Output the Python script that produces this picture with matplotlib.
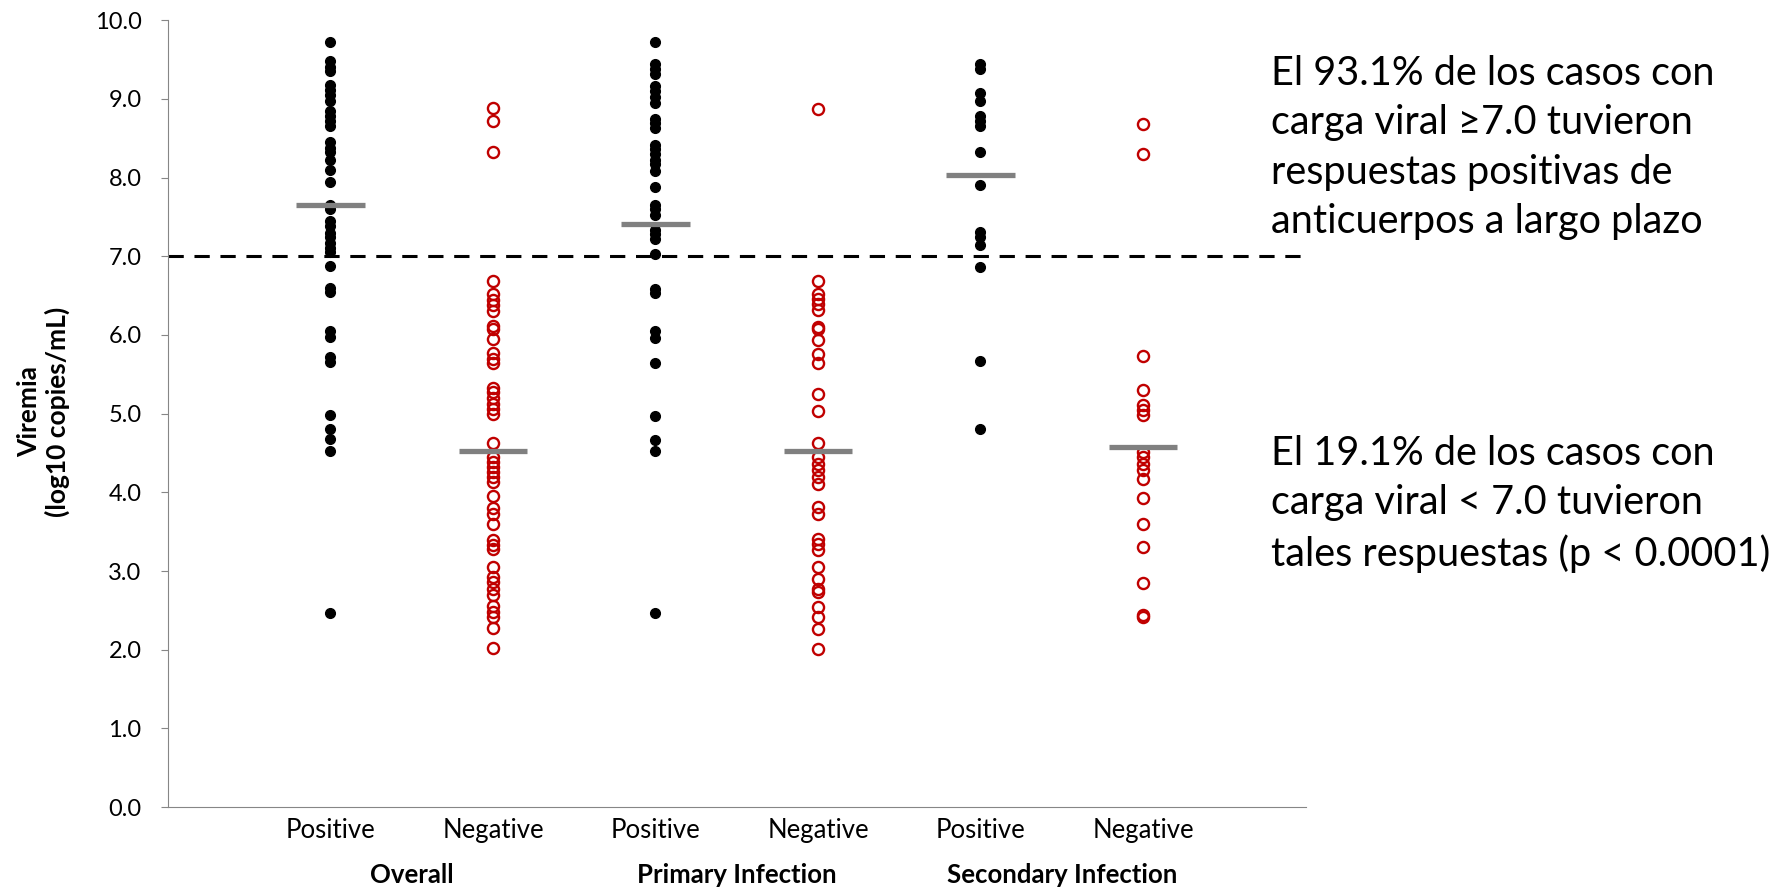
import numpy as np
import matplotlib.pyplot as plt

plt.rcParams['font.family'] = ['Lato', 'DejaVu Sans']

# viremia values (log10 copies/mL) per group
overall_pos = [9.73, 9.48, 9.41, 9.35, 9.18, 9.12, 9.05, 8.97, 8.85, 8.78, 8.72, 8.66,
               8.45, 8.38, 8.32, 8.23, 8.10, 7.94, 7.65, 7.60, 7.45, 7.38, 7.30, 7.24,
               7.17, 7.11, 7.05, 6.88, 6.60, 6.55, 6.05, 5.97, 5.72, 5.66, 4.98, 4.80,
               4.68, 4.52, 2.47]
overall_neg = [8.88, 8.72, 8.32, 6.68, 6.52, 6.45, 6.38, 6.30, 6.12, 6.08, 5.95, 5.77,
               5.70, 5.65, 5.33, 5.27, 5.20, 5.12, 5.06, 5.00, 4.63, 4.45, 4.38, 4.32,
               4.26, 4.19, 4.13, 3.95, 3.80, 3.73, 3.60, 3.40, 3.33, 3.28, 3.05, 2.92,
               2.86, 2.77, 2.70, 2.55, 2.48, 2.42, 2.27, 2.02]
primary_pos = [9.72, 9.45, 9.38, 9.32, 9.16, 9.10, 9.03, 8.95, 8.75, 8.69, 8.63, 8.42,
               8.36, 8.30, 8.23, 8.17, 8.08, 7.88, 7.65, 7.60, 7.53, 7.34, 7.28, 7.22,
               7.03, 6.58, 6.53, 6.05, 5.96, 5.65, 4.97, 4.67, 4.52, 2.47]
primary_neg = [8.87, 6.69, 6.52, 6.46, 6.39, 6.32, 6.10, 6.07, 5.94, 5.76, 5.64, 5.25,
               5.03, 4.63, 4.45, 4.36, 4.28, 4.19, 4.11, 3.81, 3.72, 3.41, 3.34, 3.27,
               3.05, 2.90, 2.77, 2.73, 2.54, 2.41, 2.26, 2.01]
secondary_pos = [9.45, 9.38, 9.07, 8.97, 8.78, 8.72, 8.66, 8.33, 7.90, 7.31, 7.25,
                 7.14, 6.86, 5.67, 4.80]
secondary_neg = [8.68, 8.30, 5.73, 5.30, 5.11, 5.05, 4.98, 4.51, 4.45, 4.36, 4.28,
                 4.17, 3.93, 3.60, 3.31, 2.85, 2.44, 2.42]

groups = [overall_pos, overall_neg, primary_pos, primary_neg, secondary_pos, secondary_neg]
group_means = [7.65, 4.52, 7.41, 4.52, 8.03, 4.57]
tick_labels = ["Positive", "Negative"] * 3
section_labels = ["Overall", "Primary Infection", "Secondary Infection"]
threshold = 7.0

fig = plt.figure(figsize=(17.83, 8.89), dpi=100)
ax = fig.add_axes([0.0942, 0.0922, 0.638, 0.885])

ax.axhline(threshold, color="black", lw=2.2, ls=(0, (5, 3.5)), zorder=1)

for i, vals in enumerate(groups):
    x = np.full(len(vals), i + 1)
    if i % 2 == 0:
        ax.plot(x, vals, "o", ms=7, color="black", mec="black", zorder=3)
    else:
        ax.plot(x, vals, "o", ms=8, mfc="none", mec="#C00000", mew=1.7, zorder=3)
    ax.hlines(group_means[i], i + 1 - 0.21, i + 1 + 0.21, color="#808080", lw=3.8, zorder=4)

ax.set_xlim(0, 7)
ax.set_ylim(0, 10)
ax.set_yticks(np.arange(0, 10.1, 1))
ax.set_yticklabels([f"{v:.1f}" for v in np.arange(0, 10.1, 1)], fontsize=17)
ax.set_xticks(range(1, 7))
ax.set_xticklabels(tick_labels, fontsize=18.5)
ax.tick_params(axis="x", length=0, pad=8)
ax.tick_params(axis="y", length=5, color="#868686", pad=14)
for s in ["top", "right"]:
    ax.spines[s].set_visible(False)
for s in ["left", "bottom"]:
    ax.spines[s].set_color("#868686")

for j, lab in enumerate(section_labels):
    ax.text(2 * j + 1.5, -0.87, lab, ha="center", va="center", fontsize=18.5,
            fontweight="bold")

fig.text(0.0245, 0.537, "Viremia\n(log10 copies/mL)", rotation=90, ha="center",
         va="center", fontsize=19, fontweight="bold", linespacing=1.2)

fig.text(0.713, 0.834, "El 93.1% de los casos con\ncarga viral ≥7.0 tuvieron\n"
         "respuestas positivas de\nanticuerpos a largo plazo",
         fontsize=28.5, va="center", ha="left", linespacing=1.42)
fig.text(0.713, 0.433, "El 19.1% de los casos con\ncarga viral < 7.0 tuvieron\n"
         "tales respuestas (p < 0.0001)",
         fontsize=28.5, va="center", ha="left", linespacing=1.42)

fig.savefig("out.png", dpi=100)
